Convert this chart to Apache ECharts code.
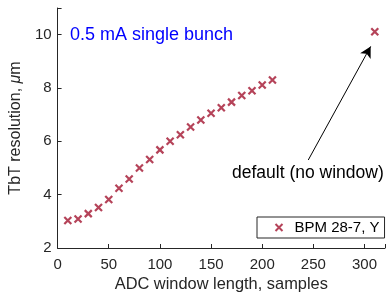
<!DOCTYPE html>
<html>
<head>
<meta charset="utf-8">
<script src="https://cdn.jsdelivr.net/npm/echarts@6/dist/echarts.min.js"></script>
<style>
  html, body { margin: 0; padding: 0; background: #fff; }
  #chart { width: 388px; height: 298px; }
</style>
</head>
<body>
<div id="chart"></div>
<script>
// window lengths (samples) and TbT resolution (um)
var windowLen = [10, 20, 30, 40, 50, 60, 70, 80, 90, 100, 110, 120, 130, 140, 150, 160, 170, 180, 190, 200, 210, 310];
var resolution = [3.03, 3.09, 3.29, 3.52, 3.82, 4.24, 4.59, 5.0, 5.32, 5.68, 6.0, 6.25, 6.54, 6.8, 7.05, 7.26, 7.47, 7.72, 7.9, 8.11, 8.3, 10.11];
// arrow from the annotation to the default point
var arrowFrom = [245, 5.3];
var arrowTo = [306, 9.56];

var cFont = 'Liberation Sans, Arial, sans-serif';
var cAxis = '#262626';
var cMark = '#A2142F';
var xPath = 'path://M0,0L10,10M10,0L0,10';

var oChart = echarts.init(document.getElementById('chart'));

var aPts = windowLen.map(function (x, i) { return [x, resolution[i]]; });

oChart.setOption({
    animation: false,
    grid: { left: 52, top: 8, right: 0, bottom: 50, containLabel: false },
    title: [
        {
            text: '0.5 mA single bunch', left: 70, top: 26, padding: 0,
            textStyle: { color: '#0000FF', fontSize: 18, fontWeight: 'normal', fontFamily: cFont }
        },
        {
            text: 'default (no window)', left: 232, top: 164, padding: 0,
            textStyle: { color: '#000', fontSize: 17.5, fontWeight: 'normal', fontFamily: cFont }
        }
    ],
    legend: {
        left: 257, top: 217,
        padding: [3, 5, 3, 16],
        itemWidth: 7, itemHeight: 7, itemGap: 4,
        borderColor: cAxis, borderWidth: 1,
        backgroundColor: '#fff',
        textStyle: { color: '#000', fontSize: 15, fontFamily: cFont, padding: [0, 0, 0, 7] },
        data: [{ name: 'BPM 28-7, Y', icon: xPath, itemStyle: { color: 'none', borderColor: cMark, borderWidth: 2 } }]
    },
    xAxis: {
        type: 'value', min: 0, max: 320, interval: 50,
        name: 'ADC window length, samples', nameLocation: 'middle', nameGap: 27,
        nameTextStyle: { color: cAxis, fontSize: 16.4, fontFamily: cFont },
        axisLine: { lineStyle: { color: cAxis, width: 1 } },
        axisTick: { inside: true, length: 4, lineStyle: { color: cAxis } },
        axisLabel: { color: cAxis, fontSize: 15, fontFamily: cFont, margin: 9,
            formatter: function (v) { return v > 300 ? '' : v; } },
        splitLine: { show: false }
    },
    yAxis: {
        type: 'value', min: 2, max: 11, interval: 2,
        name: '{a|TbT resolution, }{b|μ}{a|m}', nameLocation: 'middle', nameGap: 25,
        nameTextStyle: {
            rich: {
                a: { color: cAxis, fontSize: 16, fontFamily: cFont },
                b: { color: cAxis, fontSize: 16, fontFamily: cFont, fontStyle: 'italic' }
            }
        },
        axisLine: { show: true, lineStyle: { color: cAxis, width: 1 } },
        axisTick: { show: true, inside: true, length: 4, lineStyle: { color: cAxis } },
        axisLabel: { color: cAxis, fontSize: 15, fontFamily: cFont, margin: 6,
            formatter: function (v) { return v > 10 ? '' : v; } },
        splitLine: { show: false }
    },
    series: [{
        name: 'BPM 28-7, Y',
        type: 'scatter',
        data: aPts,
        symbol: xPath,
        symbolSize: 7,
        itemStyle: { color: 'none', borderColor: cMark, borderWidth: 2.2 },
        markLine: {
            silent: true,
            symbol: ['none', 'arrow'],
            symbolSize: [9, 11],
            label: { show: false },
            lineStyle: { color: '#000', width: 1, type: 'solid' },
            data: [[{ coord: arrowFrom }, { coord: arrowTo }]]
        }
    }]
});
</script>
</body>
</html>
